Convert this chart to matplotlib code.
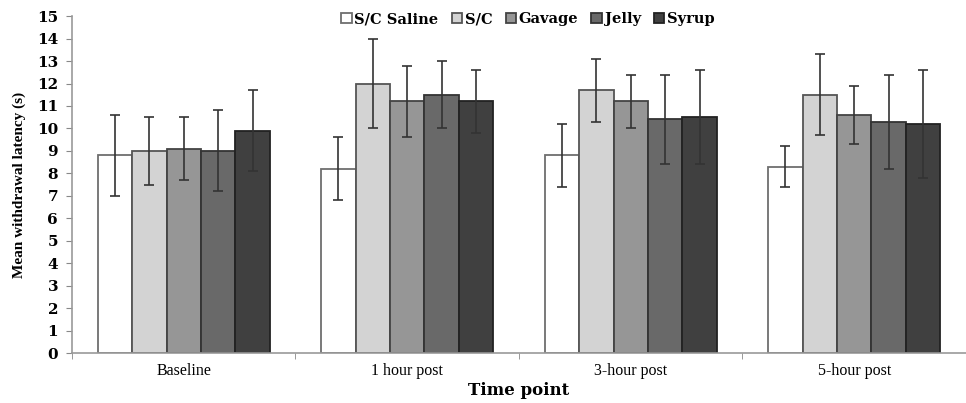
import numpy as np
import matplotlib
matplotlib.use("Agg")
import matplotlib.pyplot as plt

# categories and series
time_points = ["Baseline", "1 hour post", "3-hour post", "5-hour post"]
groups = ["S/C Saline", "S/C", "Gavage", "Jelly", "Syrup"]

sc_saline = [8.8, 8.2, 8.8, 8.3]
sc = [9.0, 12.0, 11.7, 11.5]
gavage = [9.1, 11.2, 11.2, 10.6]
jelly = [9.0, 11.5, 10.4, 10.3]
syrup = [9.9, 11.2, 10.5, 10.2]

sc_saline_err = [1.8, 1.4, 1.4, 0.9]
sc_err = [1.5, 2.0, 1.4, 1.8]
gavage_err = [1.4, 1.6, 1.2, 1.3]
jelly_err = [1.8, 1.5, 2.0, 2.1]
syrup_err = [1.8, 1.4, 2.1, 2.4]

means = [sc_saline, sc, gavage, jelly, syrup]
errs = [sc_saline_err, sc_err, gavage_err, jelly_err, syrup_err]
fills = ["#ffffff", "#d3d3d3", "#969696", "#696969", "#404040"]
edges = ["#6e6e6e", "#555555", "#444444", "#333333", "#222222"]

fig = plt.figure(figsize=(9.66, 4.03), dpi=100)
ax = fig.add_axes([0.0745, 0.124, 0.9255, 0.836])

x = np.arange(len(time_points))
w = 0.154
for i, (m, e) in enumerate(zip(means, errs)):
    pos = x + (i - 2) * w
    ax.bar(pos, m, width=w, color=fills[i], edgecolor=edges[i], linewidth=1.3,
           label=groups[i], zorder=2)
    ax.errorbar(pos, m, yerr=e, fmt="none", ecolor="#333333", elinewidth=1.2,
                capsize=3.5, capthick=1.2, zorder=3)

ax.set_xlim(-0.5, 3.456)
ax.set_ylim(0, 15)
ax.set_yticks(range(0, 16))
ax.set_yticklabels([str(v) for v in range(0, 16)], fontfamily="DejaVu Serif",
                   fontweight="bold", fontsize=11)

ax.set_xticks(x)
ax.set_xticklabels(time_points, fontfamily="Liberation Serif", fontsize=11.5)
ax.tick_params(axis="x", which="major", length=0, pad=7)
ax.set_xticks(np.arange(-0.5, 3.6, 1.0), minor=True)
ax.tick_params(axis="x", which="minor", length=4, color="#888888")
ax.tick_params(axis="y", length=4, color="#888888", pad=6)

for s in ["top", "right"]:
    ax.spines[s].set_visible(False)
for s in ["left", "bottom"]:
    ax.spines[s].set_color("#999999")
    ax.spines[s].set_linewidth(1.2)

ax.set_xlabel("Time point", fontfamily="DejaVu Serif", fontweight="bold",
              fontsize=12, labelpad=2)
ax.set_ylabel("Mean withdrawal latency (s)", fontfamily="Liberation Serif",
              fontweight="bold", fontsize=11, labelpad=8)

leg = ax.legend(loc="upper center", bbox_to_anchor=(0.51, 1.05), ncol=5,
                frameon=False, handlelength=0.7, handleheight=0.7,
                handletextpad=0.2, columnspacing=0.9,
                prop={"family": "DejaVu Serif", "weight": "bold", "size": 10.5})

fig.savefig("out.png", dpi=100)
